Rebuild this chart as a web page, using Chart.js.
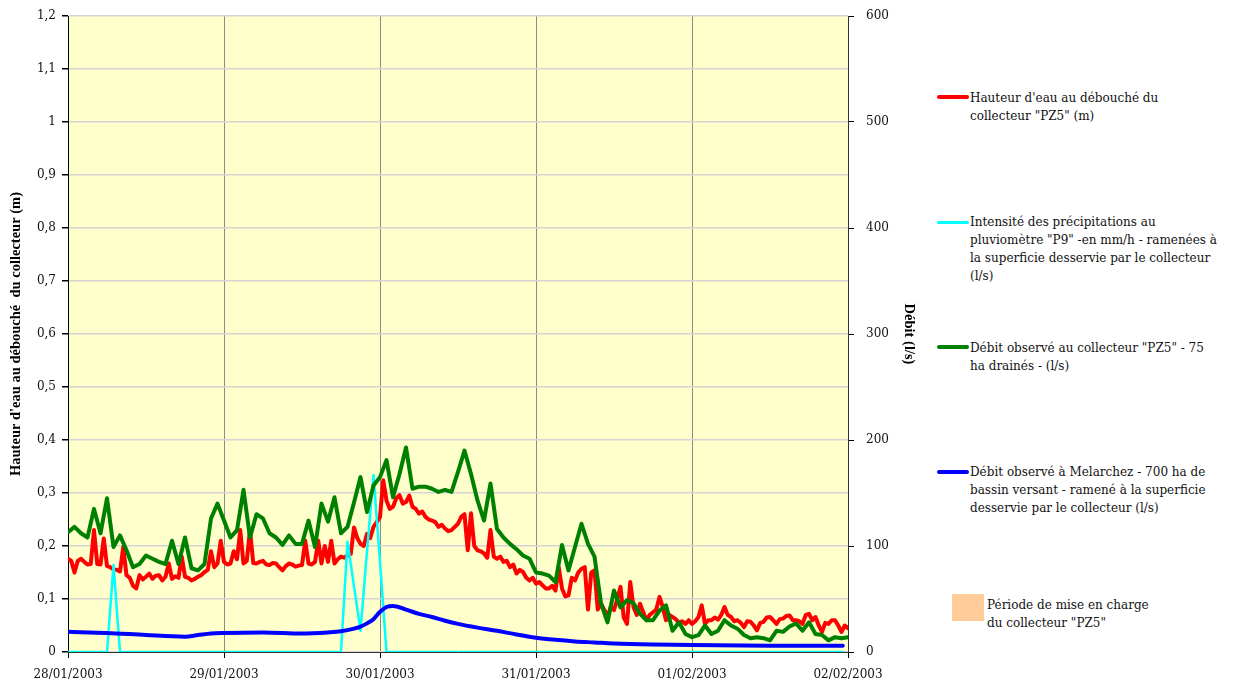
<!DOCTYPE html>
<html>
<head>
<meta charset="utf-8">
<script src="https://cdn.jsdelivr.net/npm/chart.js@4"></script>
<style>
  body { margin: 0; background: #fff; font-family: "DejaVu Serif", serif; }
  #wrap { position: relative; width: 1256px; height: 684px; overflow: hidden; }
  #chart { position: absolute; left: 0; top: 0; }
  .leg { position: absolute; left: 970px; font-size: 12px; line-height: 18px; color: #111; white-space: nowrap; }
  .sw { position: absolute; left: 937px; width: 32px; height: 4px; border-radius: 2px; }
</style>
</head>
<body>
<div id="wrap">
  <canvas id="chart" width="920" height="684"></canvas>

  <div class="sw" style="top:95px;background:#ff0000"></div>
  <div class="leg" style="top:89px">Hauteur d'eau au débouché du<br>collecteur "PZ5" (m)</div>

  <div class="sw" style="top:221px;height:3px;background:#00ffff"></div>
  <div class="leg" style="top:213px">Intensité des précipitations au<br>pluviomètre "P9" -en mm/h - ramenées à<br>la superficie desservie par le collecteur<br>(l/s)</div>

  <div class="sw" style="top:345px;background:#008000"></div>
  <div class="leg" style="top:339px">Débit observé au collecteur "PZ5" - 75<br>ha drainés - (l/s)</div>

  <div class="sw" style="top:470px;background:#0000ff"></div>
  <div class="leg" style="top:463px">Débit observé à Melarchez - 700 ha de<br>bassin versant - ramené à la superficie<br>desservie par le collecteur (l/s)</div>

  <div style="position:absolute;left:952px;top:594px;width:32px;height:27px;background:#ffcc99"></div>
  <div class="leg" style="left:987px;top:596px">Période de mise en charge<br>du collecteur "PZ5"</div>
</div>

<script>
// x axis = hours since 28/01/2003 00:00
const dayLabels = ["28/01/2003", "29/01/2003", "30/01/2003", "31/01/2003", "01/02/2003", "02/02/2003"];

// Hauteur d'eau PZ5 (m), one value every 30 min
const hauteur = [
  0.176, 0.172, 0.150, 0.172, 0.176, 0.170, 0.165, 0.166, 0.230, 0.166, 0.165, 0.214,
  0.162, 0.160, 0.156, 0.155, 0.152, 0.198, 0.145, 0.140, 0.125, 0.120, 0.145, 0.137,
  0.142, 0.148, 0.138, 0.144, 0.145, 0.135, 0.142, 0.167, 0.138, 0.143, 0.140, 0.180,
  0.142, 0.140, 0.135, 0.138, 0.142, 0.145, 0.151, 0.155, 0.190, 0.160, 0.167, 0.210,
  0.170, 0.165, 0.167, 0.190, 0.175, 0.230, 0.167, 0.172, 0.230, 0.168, 0.167, 0.170,
  0.172, 0.165, 0.164, 0.168, 0.167, 0.160, 0.154, 0.162, 0.167, 0.165, 0.161, 0.163,
  0.164, 0.210, 0.167, 0.165, 0.170, 0.210, 0.167, 0.200, 0.170, 0.210, 0.167, 0.175,
  0.180, 0.178, 0.182, 0.185, 0.235, 0.215, 0.204, 0.200, 0.223, 0.215, 0.236, 0.245,
  0.255, 0.324, 0.286, 0.270, 0.274, 0.290, 0.296, 0.280, 0.283, 0.295, 0.274, 0.270,
  0.261, 0.265, 0.255, 0.250, 0.248, 0.245, 0.236, 0.240, 0.233, 0.228, 0.230, 0.236,
  0.242, 0.255, 0.260, 0.192, 0.262, 0.200, 0.192, 0.190, 0.186, 0.178, 0.230, 0.180,
  0.176, 0.180, 0.170, 0.172, 0.160, 0.165, 0.148, 0.155, 0.151, 0.140, 0.135, 0.140,
  0.129, 0.132, 0.126, 0.120, 0.120, 0.125, 0.116, 0.160, 0.120, 0.105, 0.107, 0.140,
  0.135, 0.150, 0.157, 0.160, 0.080, 0.150, 0.154, 0.080, 0.091, 0.080, 0.066, 0.085,
  0.079, 0.100, 0.123, 0.065, 0.053, 0.132, 0.085, 0.070, 0.091, 0.075, 0.060, 0.070,
  0.075, 0.080, 0.104, 0.085, 0.060, 0.070, 0.066, 0.062, 0.055, 0.058, 0.053, 0.060,
  0.053, 0.058, 0.066, 0.088, 0.053, 0.060, 0.060, 0.065, 0.061, 0.070, 0.085, 0.070,
  0.066, 0.058, 0.060, 0.055, 0.047, 0.058, 0.057, 0.050, 0.041, 0.055, 0.057, 0.065,
  0.066, 0.060, 0.053, 0.062, 0.063, 0.068, 0.069, 0.060, 0.060, 0.058, 0.053, 0.070,
  0.072, 0.060, 0.066, 0.050, 0.038, 0.055, 0.053, 0.060, 0.060, 0.050, 0.038, 0.050,
  0.045
];

// Débit PZ5 (l/s), hourly
const debitPZ5 = [
  113, 118, 112, 108, 135, 112, 145, 99, 110, 96, 80, 83,
  91, 88, 85, 83, 105, 83, 108, 79, 77, 83, 126, 140,
  124, 108, 115, 153, 108, 130, 126, 112, 108, 101, 110, 102,
  102, 124, 99, 140, 123, 146, 112, 118, 141, 165, 132, 157,
  165, 181, 146, 168, 193, 154, 156, 156, 154, 151, 153, 151,
  170, 190, 168, 143, 124, 159, 116, 108, 102, 97, 91, 88,
  75, 74, 72, 66, 101, 77, 99, 121, 102, 90, 46, 28,
  58, 42, 49, 46, 36, 30, 30, 39, 44, 20, 28, 17,
  14, 16, 25, 17, 20, 30, 25, 22, 16, 13, 14, 13,
  11, 20, 19, 24, 27, 20, 28, 17, 16, 11, 14, 13,
  14
];

// Pluie P9 ramenée en l/s
const pluieHeures = [0, 6, 7, 8, 42, 43, 44, 45, 46, 47, 48, 49, 119.2];
const pluie = [0, 0, 82, 0, 0, 104, 62, 20, 95, 167, 85, 0, 0];

// Débit Melarchez ramené (l/s)
const melarchezHeures = [0, 6, 12, 18, 20, 22, 24, 30, 36, 40, 42, 44, 45, 46, 47, 48, 49, 50, 52, 54, 56, 58, 60, 63, 66, 69, 72, 75, 78, 81, 84, 90, 96, 108, 119.2];
const melarchez = [19, 18, 16, 14.5, 16, 17.5, 18, 18.5, 17.5, 18.5, 19.5, 22, 24, 27, 31, 38, 42.5, 43.5, 40, 36, 33, 29.5, 26.5, 23, 20, 16.5, 13.5, 11.5, 10, 9, 8, 7, 6.5, 6, 6];

const bgPlugin = {
  id: 'plotBg',
  beforeDraw(chart) {
    const { ctx, chartArea } = chart;
    ctx.save();
    ctx.fillStyle = '#ffffcc';
    ctx.fillRect(chartArea.left, chartArea.top, chartArea.right - chartArea.left, chartArea.bottom - chartArea.top);
    ctx.restore();
  }
};

const tickFont = { family: 'DejaVu Serif', size: 12 };
const titleFont = { family: 'Liberation Serif', size: 14.5, weight: 'bold' };

new Chart(document.getElementById('chart'), {
  type: 'line',
  data: {
    datasets: [
      {
        label: 'Hauteur',
        data: hauteur.map((v, i) => ({ x: i / 2, y: v })),
        borderColor: '#ff0000',
        borderWidth: 4,
        yAxisID: 'y',
        order: 4
      },
      {
        label: 'Pluie',
        data: pluieHeures.map((h, i) => ({ x: h, y: pluie[i] })),
        borderColor: '#00ffff',
        borderWidth: 2.5,
        yAxisID: 'y1',
        order: 3
      },
      {
        label: 'Débit PZ5',
        data: debitPZ5.map((v, i) => ({ x: i, y: v })),
        borderColor: '#008000',
        borderWidth: 4,
        yAxisID: 'y1',
        order: 2
      },
      {
        label: 'Melarchez',
        data: melarchezHeures.map((h, i) => ({ x: h, y: melarchez[i] })),
        borderColor: '#0000ff',
        borderWidth: 4,
        cubicInterpolationMode: 'monotone',
        yAxisID: 'y1',
        order: 1
      }
    ]
  },
  options: {
    responsive: false,
    animation: false,
    devicePixelRatio: 1,
    layout: { padding: { left: 5, top: 16, right: 0, bottom: 0 } },
    elements: {
      point: { radius: 0 },
      line: { tension: 0, borderJoinStyle: 'round', borderCapStyle: 'round', fill: false }
    },
    plugins: {
      legend: { display: false },
      tooltip: { enabled: false }
    },
    scales: {
      x: {
        type: 'linear',
        min: 0,
        max: 120,
        ticks: {
          stepSize: 24,
          autoSkip: false,
          maxRotation: 0,
          padding: 10,
          color: '#111',
          font: tickFont,
          callback: (v) => dayLabels[Math.round(v / 24)]
        },
        grid: { color: '#8a8a8a', lineWidth: 1, tickLength: 6, tickColor: '#000' },
        border: { color: '#333', width: 1 },
        afterFit: (s) => { s.height = 32; }
      },
      y: {
        position: 'left',
        min: 0,
        max: 1.2,
        ticks: {
          stepSize: 0.1,
          padding: 6,
          color: '#111',
          font: tickFont,
          callback: (v) => String(Math.round(v * 10) / 10).replace('.', ',')
        },
        grid: { color: '#d4d4d4', lineWidth: 1.5, tickLength: 6, tickColor: '#000' },
        border: { color: '#000', width: 1 },
        title: { display: true, text: "Hauteur d'eau au débouché  du collecteur (m)", font: titleFont, color: '#000', padding: { top: 3, bottom: 4 } },
        afterFit: (s) => { s.width = 63; s.paddingTop = 8; s.paddingBottom = 8; }
      },
      y1: {
        position: 'right',
        min: 0,
        max: 600,
        ticks: { stepSize: 100, padding: 12, color: '#111', font: tickFont },
        grid: { drawOnChartArea: false, tickLength: 6, tickColor: '#000' },
        border: { color: '#333', width: 1 },
        title: { display: true, text: 'Débit (l/s)', font: titleFont, color: '#000', padding: { top: 3, bottom: 4 } },
        afterFit: (s) => { s.width = 72; s.paddingTop = 8; s.paddingBottom = 8; }
      }
    }
  },
  plugins: [bgPlugin]
});
</script>
</body>
</html>
